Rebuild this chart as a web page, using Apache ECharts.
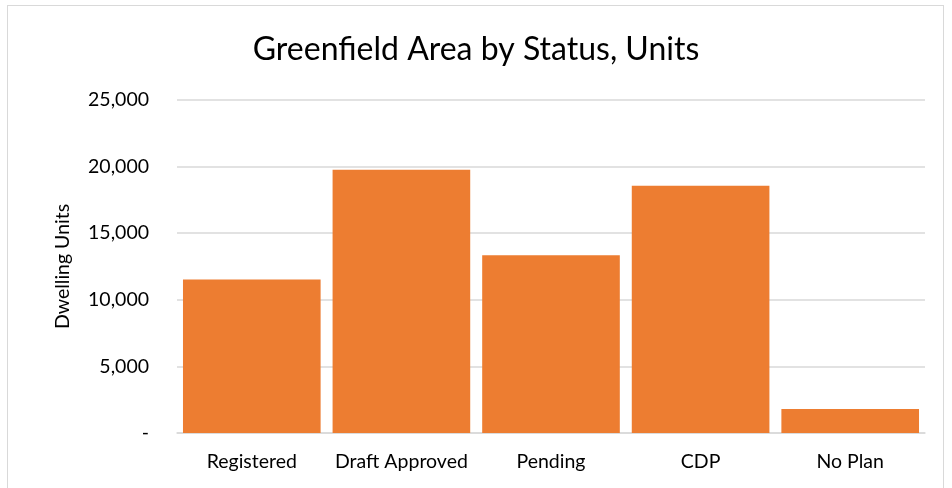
<!DOCTYPE html>
<html>
<head>
<meta charset="utf-8">
<script src="https://cdn.jsdelivr.net/npm/echarts@6/dist/echarts.min.js"></script>
<style>
html,body{margin:0;padding:0;background:#fff;}
#frame{position:absolute;left:7px;top:5px;width:937px;height:500px;border:1px solid #d9d9d9;box-sizing:border-box;}
#chart{position:absolute;left:0;top:0;width:952px;height:488px;}
</style>
</head>
<body>
<div id="frame"></div>
<div id="chart"></div>
<script>
var categories=['Registered','Draft Approved','Pending','CDP','No Plan'];
var units=[11530,19760,13350,18560,1800];
var yTicks=[0,5000,10000,15000,20000,25000];

var myChart=echarts.init(document.getElementById('chart'));
var font='Lato, "Noto Sans", sans-serif';
var option={
    animation:false,
    title:{
        text:'Greenfield Area by Status, Units',
        left:'center',
        top:29,
        textStyle:{fontFamily:font,fontSize:32,fontWeight:'normal',color:'#000'}
    },
    grid:{left:177,right:27,top:100,bottom:55,containLabel:false},
    xAxis:{
        type:'category',
        data:categories,
        axisTick:{show:false},
        axisLine:{lineStyle:{color:'#d9d9d9',width:1.5}},
        axisLabel:{fontFamily:font,fontSize:19.5,color:'#000',margin:19,interval:0}
    },
    yAxis:{
        type:'value',
        min:yTicks[0],
        max:yTicks[yTicks.length-1],
        interval:5000,
        name:'Dwelling Units',
        nameLocation:'middle',
        nameGap:104,
        nameRotate:90,
        nameTextStyle:{fontFamily:font,fontSize:19.5,color:'#000'},
        axisLine:{show:false},
        axisTick:{show:false},
        splitLine:{lineStyle:{color:'#d9d9d9',width:1.5}},
        axisLabel:{
            fontFamily:font,fontSize:19.5,color:'#000',margin:28,
            formatter:function(v){return v===0?'-':v.toLocaleString('en-US');}
        }
    },
    series:[{
        type:'bar',
        data:units,
        barCategoryGap:'8%',
        itemStyle:{color:'#ED7D31'}
    }]
};
myChart.setOption(option);
</script>
</body>
</html>
